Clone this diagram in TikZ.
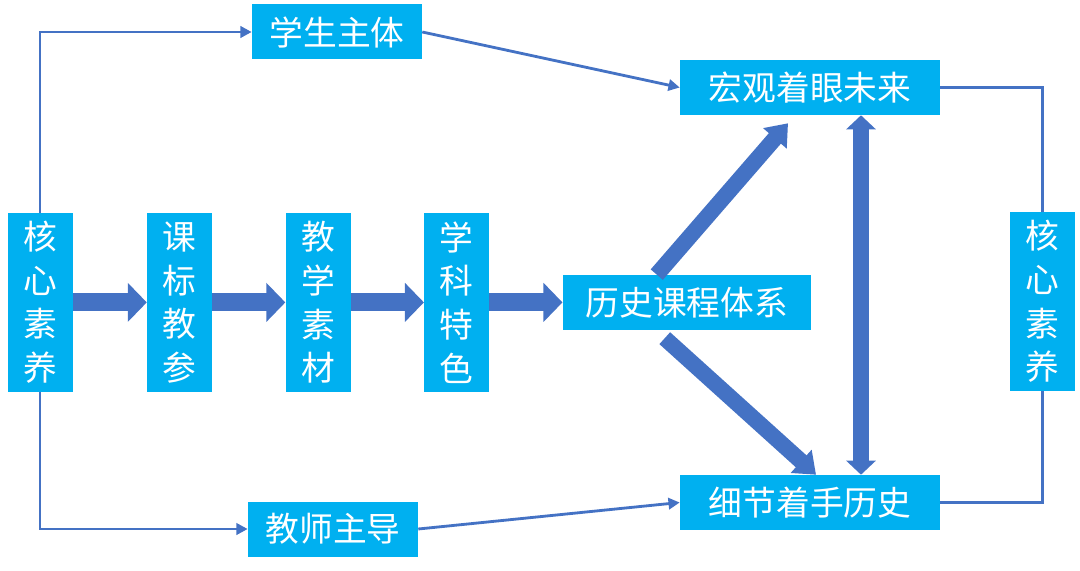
\documentclass[tikz,border=0pt]{standalone}
\usepackage{fontspec}
\newfontfamily\cjk{Noto Sans CJK SC}
\usetikzlibrary{arrows.meta,positioning}
\definecolor{boxblue}{HTML}{00B0F0}
\definecolor{lineblue}{HTML}{4472C4}
\tikzset{
    box/.style={fill=boxblue, text=white, inner sep=0pt, font=\cjk\fontsize{24}{31}\selectfont},
    hbox/.style={box, minimum height=1.375cm},
    vbox/.style={box, align=center, minimum width=1.625cm, minimum height=4.475cm},
    thin link/.style={draw=lineblue, line width=2pt, -{Triangle[width=8pt,length=8pt]}},
    plain link/.style={draw=lineblue, line width=2pt},
    fat arrow/.style={draw=lineblue, line width=0.45cm, -{Triangle[width=0.95cm,length=0.475cm]}},
    slant arrow/.style={draw=lineblue, line width=0.4cm, -{Triangle[width=0.75cm,length=0.5cm]}}
}

\begin{document}
\begin{tikzpicture}
    \useasboundingbox (0,0) rectangle (27,14.25);
    % left column and chain
    \node[vbox] (core1) at (1.0,6.69) {核\\心\\素\\养};
    \node[vbox, right=1.85cm of core1] (kb) {课\\标\\教\\参};
    \node[vbox, right=1.825cm of kb] (jc) {教\\学\\素\\材};
    \node[vbox, right=1.825cm of jc] (xk) {学\\科\\特\\色};
    \node[hbox, minimum width=6.2cm, right=1.825cm of xk] (lskc) {历史课程体系};

    \node[hbox, minimum width=4.25cm] (xs) at (8.425,13.45) {学生主体};
    \node[hbox, minimum width=4.25cm] (js) at (8.325,1.025) {教师主导};

    \node[hbox, minimum width=6.5cm] (hg) at (20.25,12.0625) {宏观着眼未来};
    \node[hbox, minimum width=6.5cm] (xj) at (20.25,1.6875) {细节着手历史};
    \node[vbox] (core2) at (26.06,6.7125) {核\\心\\素\\养};

    \draw[thin link] (core1.north) |- (xs.west);
    \draw[thin link] (core1.south) |- (js.west);
    \draw[thin link] (xs.east) -- (hg.west);
    \draw[thin link] (js.east) -- (xj.west);
    \draw[plain link] (hg.east) -| (core2.north);
    \draw[plain link] (xj.east) -| (core2.south);

    \draw[fat arrow] (core1) -- (kb);
    \draw[fat arrow] (kb) -- (jc);
    \draw[fat arrow] (jc) -- (xk);
    \draw[fat arrow] (xk) -- (lskc);

    \draw[slant arrow] ([xshift=-0.75cm]lskc.north) -- ([xshift=-0.55cm,yshift=-0.2cm]hg.south);
    \draw[slant arrow] ([xshift=-0.55cm,yshift=-0.2cm]lskc.south) -- ([xshift=0.15cm]xj.north);
    \draw[slant arrow, {Triangle[width=0.72cm,length=0.35cm]}-{Triangle[width=0.72cm,length=0.35cm]}]
        ([xshift=1.275cm]hg.south) -- ([xshift=1.275cm]xj.north);
\end{tikzpicture}
\end{document}
